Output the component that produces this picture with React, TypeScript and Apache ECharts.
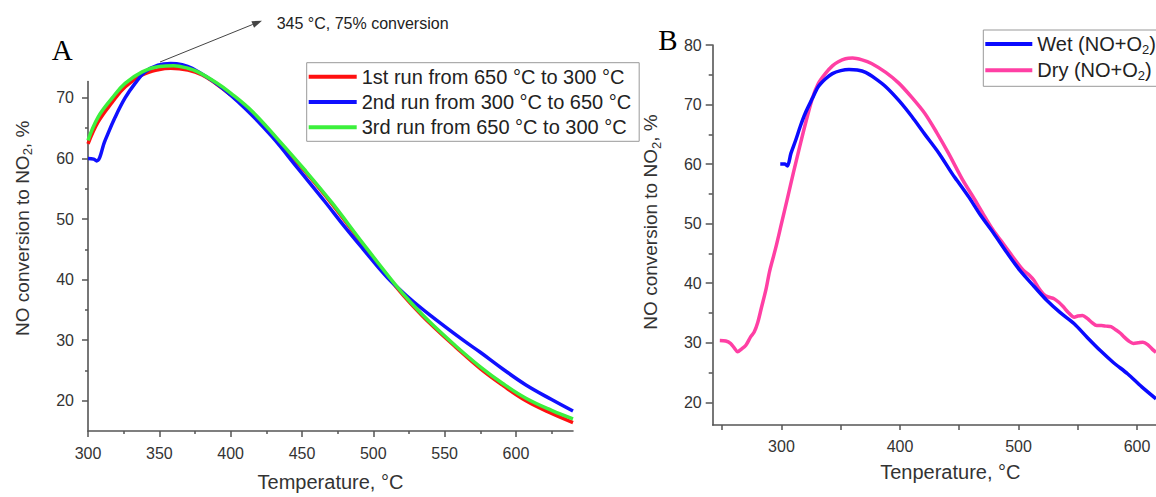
import React, { useEffect, useRef } from "react";
import * as echarts from "echarts";

// ---------- Panel A data: [temperature °C, NO conversion %] ----------
const run1: [number, number][] = [
  [300, 62.4], [307, 66.0], [317, 69.3], [326, 71.8], [338, 73.8], [350, 74.7], [358, 74.9],
  [370, 74.6], [380, 73.8], [390, 72.3], [400, 70.5], [415, 67.6], [433, 63.0], [452, 57.9],
  [471, 52.5], [492, 46.0], [516, 38.8], [526, 36.1], [540, 32.7], [558, 28.8], [575, 25.3],
  [591, 22.5], [607, 20.0], [625, 17.9], [640, 16.4],
];
const run2: [number, number][] = [
  [300, 60.0], [304, 59.9], [306, 59.6], [312, 63.0], [319, 66.8], [326, 70.0], [333, 72.4],
  [340, 74.3], [349, 75.4], [358, 75.7], [366, 75.5], [373, 74.9], [391, 72.2], [410, 68.3],
  [429, 63.6], [447, 58.4], [466, 52.9], [480, 48.7], [493, 45.0], [510, 40.3], [526, 36.8],
  [540, 34.1], [563, 30.0], [575, 28.0], [591, 25.2], [607, 22.6], [625, 20.2], [640, 18.3],
];
const run3: [number, number][] = [
  [300, 63.0], [307, 66.8], [317, 70.0], [326, 72.4], [338, 74.3], [350, 75.2], [360, 75.3],
  [370, 74.9], [377, 74.3], [390, 72.5], [400, 70.8], [415, 67.8], [433, 63.2], [452, 58.1],
  [471, 52.7], [492, 46.2], [516, 39.0], [526, 36.3], [540, 32.9], [558, 29.0], [575, 25.6],
  [591, 22.8], [607, 20.4], [625, 18.4], [640, 17.0],
];

// ---------- Panel B data ----------
const wet: [number, number][] = [
  [299, 60.0], [303, 60.0], [305, 59.7], [308, 61.8], [312, 64.0], [316, 66.4], [320, 68.5],
  [326, 71.0], [331, 73.0], [337, 74.3], [343, 75.2], [350, 75.7], [357, 75.9], [364, 75.8],
  [371, 75.4], [379, 74.4], [388, 73.0], [399, 70.7], [410, 68.0], [421, 65.0], [433, 61.8],
  [444, 58.4], [448, 57.3], [458, 54.5], [468, 51.4], [479, 48.4], [490, 45.2], [501, 42.2],
  [513, 39.5], [524, 37.1], [535, 35.1], [547, 33.2], [558, 30.9], [569, 28.7], [580, 26.7],
  [592, 24.8], [604, 22.6], [616, 20.6],
];
const dry: [number, number][] = [
  [248, 30.4], [253, 30.3], [257, 29.9], [260, 29.2], [263, 28.5], [266, 28.9], [270, 29.6],
  [274, 31.0], [277, 31.8], [280, 33.4], [283, 35.8], [287, 39.0], [290, 42.0], [295, 45.8],
  [300, 50.0], [305, 54.2], [310, 58.5], [315, 62.6], [320, 66.6], [326, 71.0], [331, 73.5],
  [337, 75.2], [343, 76.5], [348, 77.2], [354, 77.7], [360, 77.8], [368, 77.5], [376, 76.9],
  [388, 75.4], [399, 73.6], [410, 71.2], [421, 68.5], [431, 65.3], [441, 61.8], [453, 57.3],
  [462, 54.4], [470, 51.7], [478, 49.1], [485, 47.2], [495, 44.5], [504, 42.2], [509, 41.4],
  [513, 40.5], [517, 39.2], [521, 38.2], [525, 37.7], [530, 37.4], [534, 36.8], [538, 36.0],
  [542, 35.1], [547, 34.3], [550, 34.5], [554, 34.6], [558, 34.1], [562, 33.4], [566, 32.9],
  [570, 32.9], [574, 32.8], [578, 32.7], [582, 32.2], [586, 31.6], [589, 31.0], [593, 30.3],
  [597, 29.9], [601, 30.0], [605, 30.1], [609, 29.7], [613, 28.9], [616, 28.4],
];

// ---------- Tick values ----------
const aXLabels = [300, 350, 400, 450, 500, 550, 600];
const aXMinor = [325, 375, 425, 475, 525, 575, 625];
const aYLabels = [20, 30, 40, 50, 60, 70];
const aYMinor = [25, 35, 45, 55, 65];
const bXLabels = [300, 400, 500, 600];
const bXTicks = [250, 300, 350, 400, 450, 500, 550, 600];
const bYLabels = [20, 30, 40, 50, 60, 70, 80];
const bYMinor = [25, 35, 45, 55, 65, 75];

const seriesNamesA = ["1st run from 650 °C to 300 °C", "2nd run from 300 °C to 650 °C", "3rd run from 650 °C to 300 °C"];
const seriesNamesB = ["Wet (NO+O2)", "Dry (NO+O2)"];

const FONT = "Liberation Sans, Arial, sans-serif";
const AX = "#555";
const TXT = "#333";

const sub = (s: string) => s.replace(/O2/g, "O}{s|2}{a|");
const yName = "{a|NO conversion to NO}{s|2}{a|, %}";
const richName = {
  a: { fontSize: 19, lineHeight: 24, color: TXT, fontFamily: FONT },
  s: { fontSize: 13, lineHeight: 14, verticalAlign: "bottom", color: TXT, fontFamily: FONT },
};

function mainAxis(extra: any) {
  return {
    type: "value",
    splitLine: { show: false },
    axisLine: { show: true, onZero: false, lineStyle: { color: AX, width: 1.6 } },
    ...extra,
  };
}
function minorAxis(extra: any) {
  return {
    type: "value",
    splitLine: { show: false },
    axisLine: { show: false, onZero: false },
    axisLabel: { show: false },
    ...extra,
  };
}

export default function App() {
  const ref = useRef<HTMLDivElement>(null);
  useEffect(() => {
    if (!ref.current) return;
    const chart = echarts.init(ref.current, undefined, { renderer: "svg" });
    const tipX = 262, tipY = 20.7, baseX = 160, baseY = 62;
    const dx = tipX - baseX, dy = tipY - baseY;
    const len = Math.sqrt(dx * dx + dy * dy);
    const ux = dx / len, uy = dy / len;
    const hx = tipX - ux * 10, hy = tipY - uy * 10;
    const px = -uy, py = ux;
    const option: any = {
      animation: false,
      textStyle: { fontFamily: FONT },
      grid: [
        { left: 88, top: 81.6, width: 485, height: 355.1 },
        { left: 712.7, top: 45, width: 443.3, height: 380 },
      ],
      xAxis: [
        mainAxis({
          gridIndex: 0, position: "bottom", min: 300, max: 640,
          axisTick: { show: true, customValues: aXLabels, length: 6, lineStyle: { color: AX, width: 1.5 } },
          axisLabel: { customValues: aXLabels, fontSize: 16, color: TXT, margin: 14 },
          name: "Temperature, °C", nameLocation: "middle", nameGap: 41,
          nameTextStyle: { fontSize: 20, color: TXT, fontFamily: FONT },
        }),
        minorAxis({
          gridIndex: 0, position: "bottom", min: 300, max: 640,
          axisTick: { show: true, customValues: aXMinor, length: 3, lineStyle: { color: AX, width: 1.5 } },
        }),
        mainAxis({
          gridIndex: 1, position: "bottom", min: 242, max: 616,
          axisTick: { show: true, customValues: bXTicks, length: 5, lineStyle: { color: AX, width: 1.5 } },
          axisLabel: { customValues: bXLabels, fontSize: 16, color: TXT, margin: 13 },
          name: "Tenperature, °C", nameLocation: "middle", nameGap: 37,
          nameTextStyle: { fontSize: 20, color: TXT, fontFamily: FONT, padding: [0, 0, 0, 32] },
        }),
      ],
      yAxis: [
        mainAxis({
          gridIndex: 0, position: "left", min: 15, max: 72.7,
          axisTick: { show: true, customValues: aYLabels, length: 6, lineStyle: { color: AX, width: 1.5 } },
          axisLabel: { customValues: aYLabels, fontSize: 16, color: TXT, margin: 14 },
          name: yName, nameLocation: "middle", nameGap: 54,
          nameTextStyle: { rich: richName, padding: [0, 0, 0, 56] },
        }),
        minorAxis({
          gridIndex: 0, position: "left", min: 15, max: 72.7,
          axisTick: { show: true, customValues: aYMinor, length: 3, lineStyle: { color: AX, width: 1.5 } },
        }),
        mainAxis({
          gridIndex: 1, position: "left", min: 16.2, max: 80,
          axisTick: { show: true, customValues: bYLabels, length: 7, lineStyle: { color: AX, width: 1.5 } },
          axisLabel: { customValues: bYLabels, fontSize: 16, color: TXT, margin: 11 },
          name: yName, nameLocation: "middle", nameGap: 50,
          nameTextStyle: { rich: richName, padding: [0, 0, 0, 26] },
        }),
        minorAxis({
          gridIndex: 1, position: "left", min: 16.2, max: 80,
          axisTick: { show: true, customValues: bYMinor, length: 4, lineStyle: { color: AX, width: 1.5 } },
        }),
      ],
      legend: [
        {
          data: seriesNamesA, orient: "vertical", left: 306.7, top: 62.7,
          icon: "rect", itemWidth: 48, itemHeight: 4, itemGap: 5.3,
          padding: [4, 8, 4, 2], borderColor: "#999", borderWidth: 1,
          textStyle: { fontSize: 20, lineHeight: 20, color: "#222", fontFamily: FONT },
        },
        {
          data: seriesNamesB, orient: "vertical", left: 983.3, top: 30,
          icon: "rect", itemWidth: 47, itemHeight: 4, itemGap: 4.3,
          padding: [4, 4, 4, 2], borderColor: "#999", borderWidth: 1,
          formatter: (n: string) => "{a|" + sub(n) + "}",
          textStyle: {
            rich: {
              a: { fontSize: 20, lineHeight: 24, color: "#222", fontFamily: FONT },
              s: { fontSize: 13, lineHeight: 14, verticalAlign: "bottom", color: "#222", fontFamily: FONT },
            },
          },
        },
      ],
      series: [
        { name: seriesNamesA[0], data: run1, color: "#ff1010" },
        { name: seriesNamesA[1], data: run2, color: "#1010ff" },
        { name: seriesNamesA[2], data: run3, color: "#3cf03c" },
      ].map((s) => ({
        ...s, type: "line", xAxisIndex: 0, yAxisIndex: 0, showSymbol: false, symbol: "none",
        smooth: 0.4, clip: false, lineStyle: { width: 3.5, color: s.color },
      })).concat(
        [
          { name: seriesNamesB[1], data: dry, color: "#ff3fa4" },
          { name: seriesNamesB[0], data: wet, color: "#0a0aff" },
        ].map((s) => ({
          ...s, type: "line", xAxisIndex: 2, yAxisIndex: 2, showSymbol: false, symbol: "none",
          smooth: 0.3, clip: true, lineStyle: { width: 3.5, color: s.color },
        })) as any
      ),
      graphic: [
        {
          type: "line", shape: { x1: baseX, y1: baseY, x2: hx, y2: hy },
          style: { stroke: "#444", lineWidth: 1 },
        },
        {
          type: "polygon",
          shape: { points: [[tipX, tipY], [hx + px * 3.5, hy + py * 3.5], [hx - px * 3.5, hy - py * 3.5]] },
          style: { fill: "#444" },
        },
        {
          type: "text", x: 276.7, y: 23.5,
          style: { text: "345 °C, 75% conversion", fontSize: 16, fontFamily: FONT, fill: "#222", verticalAlign: "middle", align: "left" },
        },
        {
          type: "text", x: 51.7, y: 50,
          style: { text: "A", fontSize: 29, fontFamily: "Liberation Serif, Times New Roman, serif", fill: "#000", verticalAlign: "middle", align: "left" },
        },
        {
          type: "text", x: 658.3, y: 39.5,
          style: { text: "B", fontSize: 29, fontFamily: "Liberation Serif, Times New Roman, serif", fill: "#000", verticalAlign: "middle", align: "left" },
        },
      ],
    };
    chart.setOption(option);
    return () => chart.dispose();
  }, []);
  return (
    <div
      ref={ref}
      style={{ position: "absolute", left: 0, top: 0, width: 1156, height: 497, background: "#fff" }}
    />
  );
}
